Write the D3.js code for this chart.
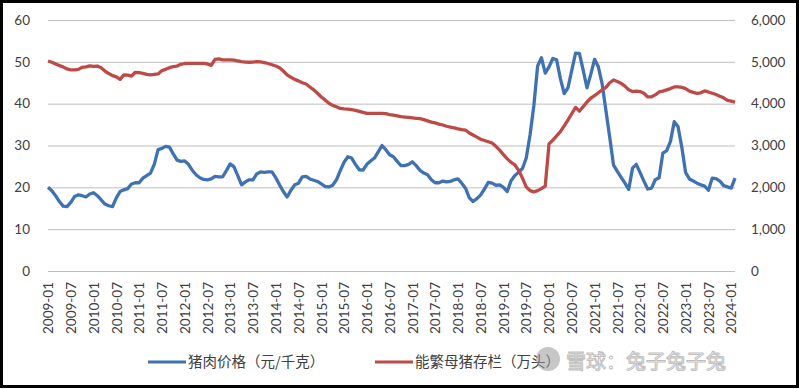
<!DOCTYPE html>
<html>
<head>
<meta charset="utf-8">
<script src="https://cdn.jsdelivr.net/npm/d3@7"></script>
<style>
  body { margin: 0; background: #fff; }
  svg text { font-family: Lato, "Open Sans", sans-serif; }
</style>
</head>
<body>
<svg id="chart" width="800" height="389"></svg>
<script>
// categories: 2009-01 .. 2024-02, monthly
var startYear = 2009, endYear = 2024, lastMonth = 2
var months = []
for (var y = startYear; y <= endYear; y++) {
  for (var m = 1; m <= 12; m++) {
    if (y === endYear && m > lastMonth) break
    months.push(y + "-" + (m < 10 ? "0" + m : m))
  }
}

// 猪肉价格 (元/千克), left axis
var porkPrice = [
  20.0, 19.2, 18.0, 16.6, 15.5, 15.4, 16.4, 17.8, 18.2, 18.0, 17.7, 18.4,
  18.7, 18.0, 17.0, 16.0, 15.6, 15.4, 17.5, 19.0, 19.4, 19.7, 20.8, 21.1,
  21.1, 22.2, 22.8, 23.4, 25.5, 29.0, 29.3, 29.8, 29.6, 28.0, 26.5, 26.2,
  26.3, 25.5, 24.1, 23.0, 22.3, 21.9, 21.8, 22.0, 22.6, 22.5, 22.5, 24.0,
  25.6, 24.9, 22.8, 20.6, 21.3, 21.8, 21.8, 23.2, 23.7, 23.6, 23.7, 23.7,
  22.3, 20.6, 19.0, 17.7, 19.3, 20.6, 21.0, 22.5, 22.6, 22.0, 21.7, 21.4,
  20.8, 20.2, 20.1, 20.5, 21.8, 24.0, 26.0, 27.3, 27.0, 25.5, 24.2, 24.1,
  25.5, 26.3, 27.0, 28.5, 30.0, 29.0, 27.8, 27.3, 26.2, 25.2, 25.2, 25.5,
  26.1, 25.2, 24.1, 23.4, 23.0, 21.8, 21.1, 21.1, 21.5, 21.3, 21.4, 21.8,
  22.0, 21.0, 19.8, 17.5, 16.6, 17.3, 18.2, 19.6, 21.2, 21.0, 20.5, 20.6,
  20.0, 19.0, 21.6, 22.8, 23.6, 24.5, 27.0, 32.5, 39.5, 49.0, 51.0, 47.3,
  48.8, 50.8, 50.5, 46.0, 42.4, 43.8, 48.0, 52.1, 52.0, 48.0, 43.8, 47.0,
  50.6, 48.8, 44.7, 38.3, 31.9, 25.3, 23.8, 22.4, 21.0, 19.5, 24.6, 25.5,
  23.5, 21.5, 19.6, 19.8, 21.8, 22.3, 28.2, 28.8, 31.0, 35.7, 34.5, 29.5,
  23.5, 22.0, 21.5, 21.0, 20.6, 20.3, 19.3, 22.2, 22.1, 21.5, 20.4, 20.1,
  19.8, 22.2
]

// 能繁母猪存栏 (万头), right axis
var sowStock = [
  5020, 4990, 4950, 4910, 4880, 4830, 4810, 4810, 4820, 4870, 4880, 4905,
  4890, 4900, 4860, 4780, 4720, 4670, 4640, 4580, 4690, 4680, 4660, 4750,
  4740, 4725, 4700, 4690, 4700, 4710, 4790, 4820, 4860, 4885, 4900, 4940,
  4960, 4965, 4965, 4965, 4965, 4965, 4950, 4915, 5060, 5070, 5045, 5045,
  5045, 5040, 5020, 5005, 4995, 4990, 4995, 5005, 5000, 4980, 4960, 4930,
  4900, 4860, 4780, 4690, 4630, 4580, 4545, 4500, 4470, 4400, 4330, 4250,
  4160, 4090, 4010, 3960, 3925, 3885, 3875, 3870, 3855, 3840, 3815, 3790,
  3770, 3770, 3770, 3770, 3770, 3760, 3740, 3725, 3710, 3690, 3680, 3670,
  3660, 3650, 3640, 3620, 3590, 3560, 3540, 3510, 3490, 3460, 3440, 3420,
  3400, 3380, 3370, 3300, 3250, 3200, 3150, 3120, 3090, 3060, 2980, 2890,
  2780, 2680, 2600, 2535, 2410, 2220, 2010, 1920, 1890, 1920, 1970, 2030,
  3040, 3130, 3230, 3330, 3470, 3610, 3760, 3910, 3820, 3930, 4040, 4130,
  4190, 4260, 4330, 4390, 4500, 4565, 4530, 4485, 4420, 4330, 4290, 4300,
  4290, 4250, 4160, 4165, 4210, 4280, 4300, 4330, 4360, 4400, 4400, 4390,
  4360, 4300, 4270, 4245, 4260, 4305, 4280, 4250, 4220, 4180, 4140, 4080,
  4060, 4035
]

var leftTicks = [0, 10, 20, 30, 40, 50, 60]
var rightTicks = [0, 1000, 2000, 3000, 4000, 5000, 6000]
var seriesNames = ["猪肉价格（元/千克）", "能繁母猪存栏（万头）"]
var seriesColors = ["#3f71b3", "#bd4a47"]

var svg = d3.select("#chart")
var plotL = 48, plotR = 735, plotT = 20, plotB = 271

var x = d3.scalePoint().domain(months).range([plotL, plotR])
var yL = d3.scaleLinear().domain([0, 60]).range([plotB, plotT])
var yR = d3.scaleLinear().domain([0, 6000]).range([plotB, plotT])

// gridlines
svg.append("g")
  .attr("transform", `translate(${plotL},0)`)
  .call(d3.axisLeft(yL).tickValues(leftTicks).tickSize(-(plotR - plotL)).tickFormat(""))
  .call(g => g.select(".domain").remove())
  .call(g => g.selectAll("line").attr("stroke", "#bfbfbf").attr("stroke-width", 1))

// left axis labels
svg.append("g")
  .attr("transform", "translate(30,0)")
  .call(d3.axisLeft(yL).tickValues(leftTicks).tickSize(0).tickPadding(0))
  .call(g => g.select(".domain").remove())
  .call(g => g.selectAll("text").attr("fill", "#404040").style("font-size", "13.5px"))

// right axis labels
svg.append("g")
  .attr("transform", "translate(751,0)")
  .call(d3.axisRight(yR).tickValues(rightTicks).tickSize(0).tickPadding(0).tickFormat(d3.format(",")))
  .call(g => g.select(".domain").remove())
  .call(g => g.selectAll("text").attr("fill", "#404040").style("font-size", "13.5px"))

// x axis
svg.append("g")
  .attr("transform", `translate(0,${plotB})`)
  .call(d3.axisBottom(x).tickValues(months.filter((d, i) => i % 6 === 0)).tickSize(0))
  .call(g => g.select(".domain").remove())
  .call(g => g.selectAll("text")
    .attr("x", 0).attr("y", 0).attr("dy", "0.35em")
    .attr("text-anchor", "end")
    .attr("transform", "translate(0,11) rotate(-90)")
    .attr("fill", "#404040")
    .style("font-size", "13.5px"))

// lines
var lineL = d3.line().x((d, i) => x(months[i])).y(d => yL(d))
var lineR = d3.line().x((d, i) => x(months[i])).y(d => yR(d))

svg.append("path")
  .datum(porkPrice)
  .attr("d", lineL)
  .attr("fill", "none")
  .attr("stroke", seriesColors[0])
  .attr("stroke-width", 3.3)
  .attr("stroke-linejoin", "round")

svg.append("path")
  .datum(sowStock)
  .attr("d", lineR)
  .attr("fill", "none")
  .attr("stroke", seriesColors[1])
  .attr("stroke-width", 3.3)
  .attr("stroke-linejoin", "round")

// legend
var legendX = [148, 375]
var legend = svg.append("g")
seriesNames.forEach((name, i) => {
  legend.append("line")
    .attr("x1", legendX[i]).attr("x2", legendX[i] + 38)
    .attr("y1", 362).attr("y2", 362)
    .attr("stroke", seriesColors[i]).attr("stroke-width", 3)
  legend.append("text")
    .attr("x", legendX[i] + 40).attr("y", 362).attr("dy", "0.35em")
    .attr("fill", "#404040")
    .style("font-family", "'Noto Sans CJK SC', sans-serif")
    .style("font-size", "14.5px")
    .text(name)
})

// watermark
var wm = svg.append("g").attr("opacity", 0.55)
wm.append("circle").attr("cx", 548).attr("cy", 359).attr("r", 12)
  .attr("fill", "#9a9a9a")
wm.append("text")
  .attr("x", 566).attr("y", 362).attr("dy", "0.35em")
  .attr("fill", "#fff").attr("stroke", "#8a8a8a").attr("stroke-width", 1)
  .style("font-family", "'Noto Sans CJK SC', sans-serif")
  .style("font-size", "20px")
  .text("雪球：兔子兔子兔")

// frame
svg.append("rect")
  .attr("x", 1.5).attr("y", 1.5).attr("width", 796).attr("height", 385)
  .attr("fill", "none").attr("stroke", "#000").attr("stroke-width", 3)
</script>
</body>
</html>
